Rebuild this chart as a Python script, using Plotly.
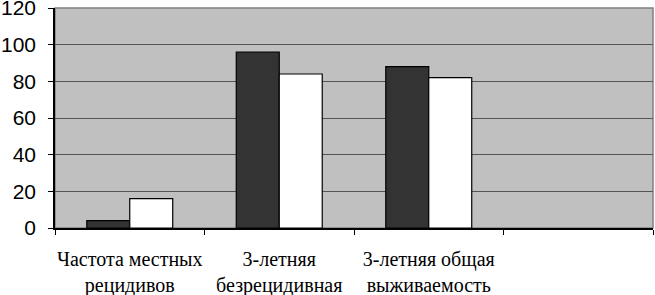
import plotly.graph_objects as go

categories = ["Частота местных рецидивов", "3-летняя безрецидивная", "3-летняя общая выживаемость", " "]
tick_labels = ["Частота местных<br>рецидивов", "3-летняя<br>безрецидивная", "3-летняя общая<br>выживаемость", ""]
series_dark = [4, 96, 88]
series_white = [16, 84, 82]
y_ticks = [0, 20, 40, 60, 80, 100, 120]

SERIF = "Liberation Serif, Times New Roman, serif"
SANS = "Liberation Sans, Arial, sans-serif"

fig = go.Figure()
fig.add_trace(go.Bar(x=categories[:3], y=series_dark, marker=dict(color="#333333", line=dict(color="#000000", width=1.2)), showlegend=False))
fig.add_trace(go.Bar(x=categories[:3], y=series_white, marker=dict(color="#ffffff", line=dict(color="#000000", width=1.2)), showlegend=False))

fig.update_layout(
    width=655, height=295,
    margin=dict(l=55, r=2, t=8, b=67, autoexpand=False),
    paper_bgcolor="#ffffff", plot_bgcolor="#c0c0c0",
    font=dict(family=SANS),
    barmode="group", bargap=0.425, bargroupgap=0,
    xaxis=dict(type="category", categoryarray=categories, categoryorder="array",
               range=[-0.5, 3.5], tickmode="array", tickvals=categories, ticktext=tick_labels,
               tickson="boundaries", ticks="outside", ticklen=5, tickcolor="#000",
               showline=True, linecolor="#000", linewidth=1.5, showgrid=False,
               tickangle=0,
               tickfont=dict(family=SERIF, size=20, color="#000"),
               ticklabelstandoff=12, automargin=False, ticklabeloverflow="allow"),
    yaxis=dict(range=[0, 120], tickvals=y_ticks, ticks="outside", ticklen=5, tickcolor="#000",
               showline=True, linecolor="#000", linewidth=1.5,
               showgrid=True, gridcolor="#555555", gridwidth=1, zeroline=False,
               tickfont=dict(family=SANS, size=21, color="#000"),
               ticklabelstandoff=8, automargin=False, ticklabeloverflow="allow"),
    shapes=[dict(type="rect", xref="paper", yref="paper", x0=0, x1=1, y0=0, y1=1,
                 line=dict(color="#808080", width=1.5), layer="below")],
)

fig.write_html("out.html", config={"displayModeBar": False},
               post_script="document.body.style.margin='0';")
